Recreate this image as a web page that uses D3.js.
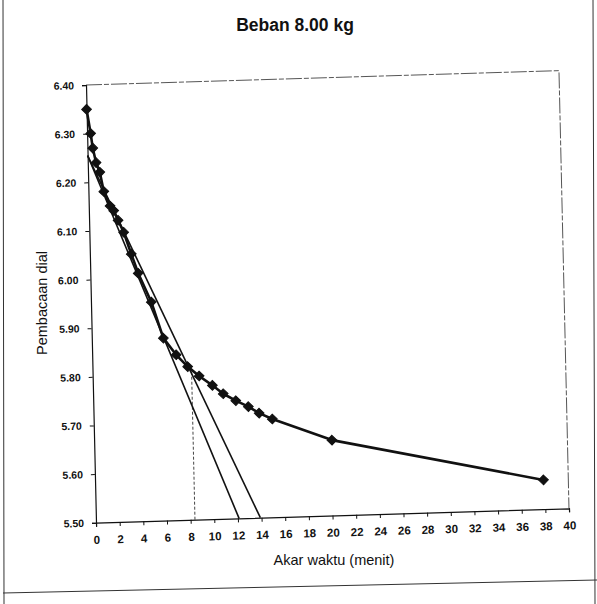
<!DOCTYPE html>
<html>
<head>
<meta charset="utf-8">
<script src="https://cdn.jsdelivr.net/npm/d3@7"></script>
<style>
  html, body { margin: 0; padding: 0; background: #fff; }
  svg { display: block; }
  text { font-family: "Liberation Sans", Arial, sans-serif; fill: #111; }
</style>
</head>
<body>
<svg id="chart" width="597" height="604"></svg>
<script>
// ---- data ----
const chartTitle = "Beban 8.00 kg";
const xAxisTitle = "Akar waktu (menit)";
const yAxisTitle = "Pembacaan dial";

const sqrtTime = [0, 0.3, 0.45, 0.7, 1.0, 1.3, 1.8, 2.1, 2.45, 2.9, 3.5, 4.05, 5.1, 6.05, 7.1, 8.05, 9.0, 10.1, 11.0, 12.05, 13.1, 14.0, 15.1, 20.1, 37.9];
const dialReading = [6.35, 6.30, 6.27, 6.24, 6.22, 6.18, 6.15, 6.14, 6.12, 6.095, 6.05, 6.01, 5.95, 5.875, 5.84, 5.815, 5.795, 5.775, 5.757, 5.742, 5.729, 5.715, 5.702, 5.655, 5.56];

// Taylor construction lines: [x, y] end points
const tangentLine1 = [[0, 6.255], [12.1, 5.50]];
const tangentLine2 = [[0, 6.255], [13.9, 5.50]];
const t90Marker = [[8.37, 5.50], [8.37, 5.805]];

const xTicks = [0,2,4,6,8,10,12,14,16,18,20,22,24,26,28,30,32,34,36,38,40];
const yTicks = [5.50,5.60,5.70,5.80,5.90,6.00,6.10,6.20,6.30,6.40];

// ---- layout ----
const svg = d3.select("#chart");
const O = {x: 96, y: 522.7};        // plot origin corner
const x = d3.scaleLinear().domain([0, 40]).range([O.x, O.x + 473.2]);
const y = d3.scaleLinear().domain([5.5, 6.4]).range([O.y, O.y - 437.8]);

// slight scan tilt
const ax = 1.74 * Math.PI / 180, ay = 1.31 * Math.PI / 180;
const a = Math.cos(ax), b = -Math.sin(ax), c = Math.sin(ay), d = Math.cos(ay);
const e = O.x - a * O.x - c * O.y, f = O.y - b * O.x - d * O.y;

// outer frame lines (scan borders)
svg.append("line").attr("x1", 3).attr("y1", 0).attr("x2", 4).attr("y2", 604)
  .attr("stroke", "#333").attr("stroke-width", 1);
svg.append("line").attr("x1", 593).attr("y1", 0).attr("x2", 595).attr("y2", 604)
  .attr("stroke", "#333").attr("stroke-width", 1);
svg.append("line").attr("x1", 3).attr("y1", 593).attr("x2", 597).attr("y2", 580)
  .attr("stroke", "#333").attr("stroke-width", 1);

const g = svg.append("g").attr("transform", `matrix(${a},${b},${c},${d},${e},${f})`);

// plot area border (top and right)
g.append("path")
  .attr("d", `M${x(0)},${y(6.4)}H${x(40)}V${y(5.5)}`)
  .attr("fill", "none").attr("stroke", "#444").attr("stroke-width", 0.9)
  .attr("stroke-dasharray", "16,2,5,2");

// axes
const xAxis = d3.axisBottom(x).tickValues(xTicks).tickSize(4).tickPadding(9)
  .tickFormat(d3.format("d"));
const yAxis = d3.axisLeft(y).tickValues(yTicks).tickSize(4).tickPadding(8)
  .tickFormat(d3.format(".2f"));

const gx = g.append("g").attr("transform", `translate(0,${O.y})`).call(xAxis);
const gy = g.append("g").attr("transform", `translate(${O.x},0)`).call(yAxis);
[gx, gy].forEach(s => {
  s.select(".domain").attr("stroke", "#111").attr("stroke-width", 1.2);
  s.selectAll(".tick line").attr("stroke", "#111");
  s.selectAll(".tick text").attr("fill", "#111")
    .style("font-family", '"Liberation Sans", Arial, sans-serif')
    .style("font-weight", "bold");
});
gx.selectAll(".tick text").style("font-size", "11.5px");
gy.selectAll(".tick text").style("font-size", "10.5px");

// dotted vertical marker
g.append("line")
  .attr("x1", x(t90Marker[0][0])).attr("y1", y(t90Marker[0][1]))
  .attr("x2", x(t90Marker[1][0])).attr("y2", y(t90Marker[1][1]))
  .attr("stroke", "#333").attr("stroke-width", 0.9).attr("stroke-dasharray", "3,2");

// tangent lines
const lineGen = d3.line().x(p => x(p[0])).y(p => y(p[1]));
[tangentLine1, tangentLine2].forEach(L => {
  g.append("path").attr("d", lineGen(L))
    .attr("fill", "none").attr("stroke", "#111").attr("stroke-width", 1.6);
});

// data curve
const pts = sqrtTime.map((t, i) => [t, dialReading[i]]);
g.append("path").attr("d", lineGen(pts))
  .attr("fill", "none").attr("stroke", "#111").attr("stroke-width", 2.6)
  .attr("stroke-linejoin", "round");

// diamond markers
g.selectAll(".pt").data(pts).enter().append("path")
  .attr("class", "pt")
  .attr("d", d3.symbol().type(d3.symbolDiamond2).size(60))
  .attr("transform", p => `translate(${x(p[0])},${y(p[1])})`)
  .attr("fill", "#111").attr("stroke", "#111").attr("stroke-width", 1);

// titles (outside the tilted group)
svg.append("text").attr("x", 295).attr("y", 31).attr("text-anchor", "middle")
  .style("font-size", "17.5px").style("font-weight", "bold").text(chartTitle);
svg.append("text").attr("x", 334).attr("y", 565).attr("text-anchor", "middle")
  .style("font-size", "14.5px").text(xAxisTitle);
svg.append("text").attr("transform", "translate(47,303) rotate(-90)")
  .attr("text-anchor", "middle").style("font-size", "14.5px").text(yAxisTitle);
</script>
</body>
</html>
